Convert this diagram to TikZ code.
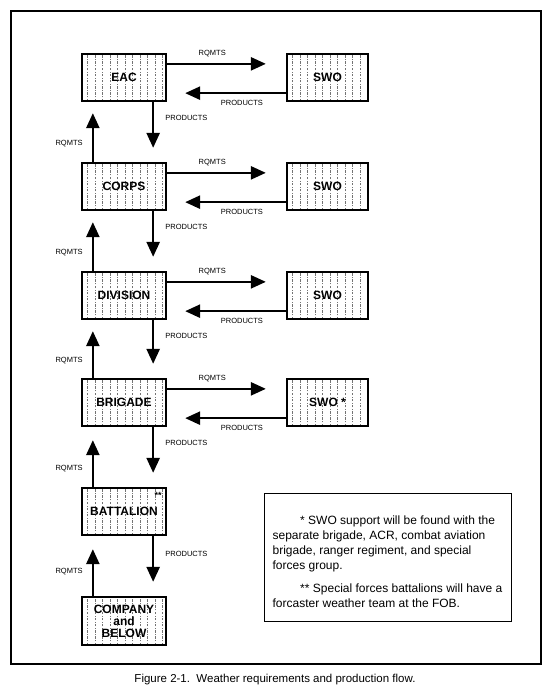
\documentclass[tikz,border=0pt]{standalone}
\usepackage{fontspec}
\setmainfont{Liberation Sans}
\usetikzlibrary{arrows.meta}
\begin{document}
\begin{tikzpicture}[x=1pt,y=1pt]
    \tikzstyle{unit}=[draw, line width=2.3pt, fill=white, minimum width=84pt, minimum height=47pt, inner sep=1pt, align=center, font=\fontsize{12}{12}\selectfont\bfseries,
      path picture={\foreach \k in {1,...,11} \draw[black!55, line width=0.6pt, dash pattern=on 2.5pt off 1.2pt on 1pt off 1.5pt] ([xshift=\k*7.5pt-2pt]path picture bounding box.south west) -- ([xshift=\k*7.5pt-2pt]path picture bounding box.north west);}]
    \tikzstyle{swo}=[unit, minimum width=81pt]
    \tikzstyle{flow}=[line width=2.5pt, -{Triangle[length=15pt,width=13pt]}]
    \tikzstyle{tag}=[inner sep=1pt, font=\fontsize{7.5}{8}\selectfont]
    \useasboundingbox (0,0) rectangle (550,-694);
    \draw [line width=2.6pt] (11,-11) rectangle (541,-664);
    \node [unit] (eac) at (124,-77.5) {EAC};
    \node [swo] (swoa) at (327.5,-77.5) {SWO};
    \node [unit] (corps) at (124,-186.5) {CORPS};
    \node [swo] (swob) at (327.5,-186.5) {SWO};
    \node [unit] (division) at (124,-295.5) {DIVISION};
    \node [swo] (swoc) at (327.5,-295.5) {SWO};
    \node [unit] (brigade) at (124,-402.5) {BRIGADE};
    \node [swo] (swod) at (327.5,-402.5) {SWO *};
    \node [unit] (battalion) at (124,-511.5) {BATTALION};
    \node [font=\fontsize{9}{9}\selectfont\bfseries, inner sep=0pt] (stars) at ([xshift=-9pt,yshift=-9pt]battalion.north east) {**};
    \node [unit, minimum height=48pt] (company) at (124,-621) {COMPANY\\and\\BELOW};
    \draw [flow, shorten >=20pt] ([yshift=-11pt]eac.north east) -- ([yshift=-11pt]swoa.north west) node [tag, pos=0.38, above=5pt] {RQMTS};
    \draw [flow, shorten >=18pt] ([yshift=9pt]swoa.south west) -- ([yshift=9pt]eac.south east) node [tag, pos=0.37, below=5pt] {PRODUCTS};
    \draw [flow, shorten >=20pt] ([yshift=-11pt]corps.north east) -- ([yshift=-11pt]swob.north west) node [tag, pos=0.38, above=5pt] {RQMTS};
    \draw [flow, shorten >=18pt] ([yshift=9pt]swob.south west) -- ([yshift=9pt]corps.south east) node [tag, pos=0.37, below=5pt] {PRODUCTS};
    \draw [flow, shorten >=20pt] ([yshift=-11pt]division.north east) -- ([yshift=-11pt]swoc.north west) node [tag, pos=0.38, above=5pt] {RQMTS};
    \draw [flow, shorten >=18pt] ([yshift=9pt]swoc.south west) -- ([yshift=9pt]division.south east) node [tag, pos=0.37, below=5pt] {PRODUCTS};
    \draw [flow, shorten >=20pt] ([yshift=-11pt]brigade.north east) -- ([yshift=-11pt]swod.north west) node [tag, pos=0.38, above=5pt] {RQMTS};
    \draw [flow, shorten >=18pt] ([yshift=9pt]swod.south west) -- ([yshift=9pt]brigade.south east) node [tag, pos=0.37, below=5pt] {PRODUCTS};
    \draw [flow, shorten >=14pt] ([xshift=-14pt]eac.south east) -- ([xshift=-14pt]corps.north east) node [tag, pos=0.27, right=10pt] {PRODUCTS};
    \draw [flow, shorten >=14pt] ([xshift=-14pt]corps.south east) -- ([xshift=-14pt]division.north east) node [tag, pos=0.27, right=10pt] {PRODUCTS};
    \draw [flow, shorten >=14pt] ([xshift=-14pt]division.south east) -- ([xshift=-14pt]brigade.north east) node [tag, pos=0.27, right=10pt] {PRODUCTS};
    \draw [flow, shorten >=14pt] ([xshift=-14pt]brigade.south east) -- ([xshift=-14pt]battalion.north east) node [tag, pos=0.27, right=10pt] {PRODUCTS};
    \draw [flow, shorten >=14pt] ([xshift=-14pt]battalion.south east) -- ([xshift=-14pt]company.north east) node [tag, pos=0.3, right=10pt] {PRODUCTS};
    \draw [flow, shorten >=11pt] ([xshift=12pt]corps.north west) -- ([xshift=12pt]eac.south west) node [tag, pos=0.3, left=8pt] {RQMTS};
    \draw [flow, shorten >=11pt] ([xshift=12pt]division.north west) -- ([xshift=12pt]corps.south west) node [tag, pos=0.3, left=8pt] {RQMTS};
    \draw [flow, shorten >=11pt] ([xshift=12pt]brigade.north west) -- ([xshift=12pt]division.south west) node [tag, pos=0.3, left=8pt] {RQMTS};
    \draw [flow, shorten >=13pt] ([xshift=12pt]battalion.north west) -- ([xshift=12pt]brigade.south west) node [tag, pos=0.3, left=8pt] {RQMTS};
    \draw [flow, shorten >=13pt] ([xshift=12pt]company.north west) -- ([xshift=12pt]battalion.south west) node [tag, pos=0.4, left=8pt] {RQMTS};
    \node [draw, line width=1pt, minimum width=247pt, minimum height=128pt, inner sep=0pt] (notes) at (387.5,-557) {};
    \node [align=left, inner sep=0pt, font=\fontsize{12}{15}\selectfont] (notetext) at ([yshift=-5pt]notes.center) {\hspace*{2.3em}* SWO support will be found with the\\separate brigade, ACR, combat aviation\\brigade, ranger regiment, and special\\forces group.\\[8pt]\hspace*{2.3em}** Special forces battalions will have a\\forcaster weather team at the FOB.};
    \node [font=\fontsize{11.5}{13}\selectfont] (caption) at (275,-680) {Figure 2-1.\ \ Weather requirements and production flow.};
\end{tikzpicture}
\end{document}
